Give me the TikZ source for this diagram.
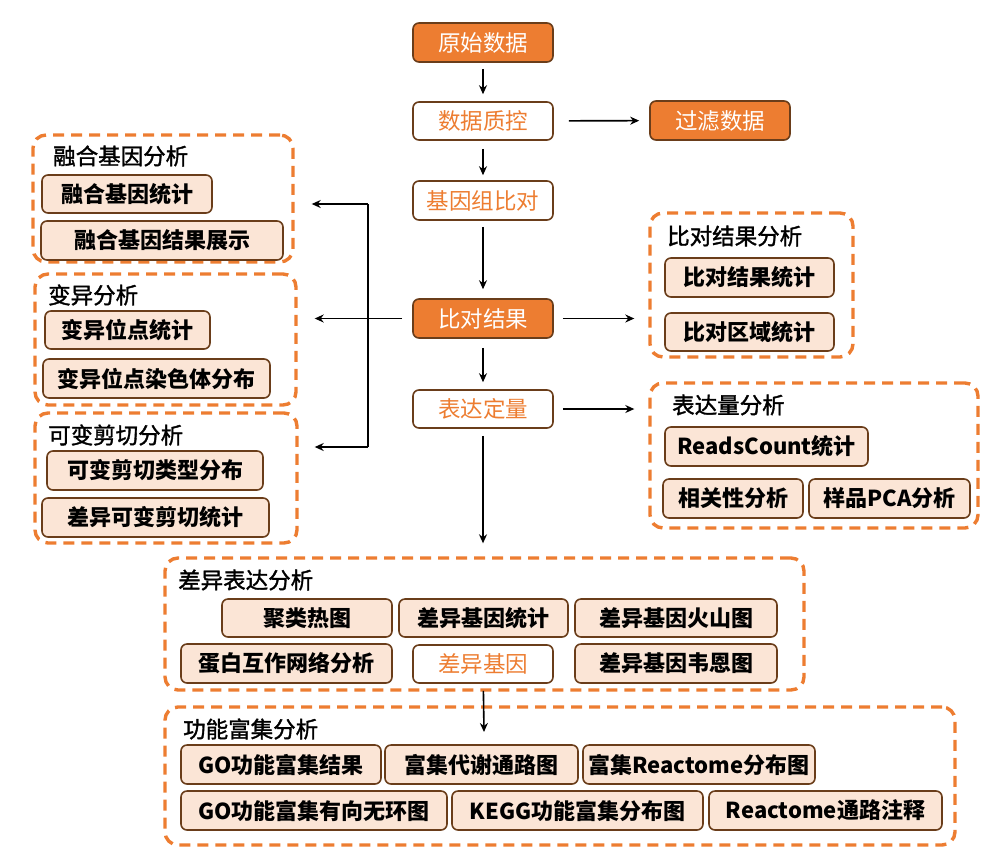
\documentclass[tikz,border=0pt]{standalone}
\usepackage{fontspec}
\setmainfont{Noto Sans CJK SC}
\newfontfamily\titlefont{Noto Sans CJK SC}[FakeBold=1.5]
\usetikzlibrary{arrows.meta}

\definecolor{flowor}{HTML}{ED7D31}
\definecolor{peach}{HTML}{FBE5D6}
\definecolor{rim}{HTML}{6A3D1A}

\tikzset{
  base/.style={rounded corners=6pt, line width=1.6pt, draw=rim, inner sep=0pt,
    font=\fontsize{22.5}{26}\selectfont},
  solidbox/.style={base, fill=flowor, text=white},
  hollowbox/.style={base, fill=white, text=flowor},
  itembox/.style={base, fill=peach, text=black, font=\fontsize{22}{26}\selectfont\bfseries},
  groupbox/.style={draw=flowor, line width=3.4pt, dash pattern=on 11pt off 7pt,
    rounded corners=13pt, inner sep=0pt},
  grouptitle/.style={anchor=west, inner sep=0pt, font=\fontsize{22.5}{26}\titlefont},
  link/.style={line width=1.6pt, black},
  arrow/.style={link, -{Stealth[length=9pt,width=8pt]}},
}

% \placebox{name}{x1}{y1}{x2}{y2}{style}{text}
\newcommand{\placebox}[7]{%
  \node[#6, minimum width={(#4-#2)*1pt}, minimum height={(#5-#3)*1pt}]
    (#1) at ({(#2+#4)/2},{(#3+#5)/2}) {#7};}

\begin{document}
\begin{tikzpicture}[x=1pt, y=-1pt]
\useasboundingbox (0,0) rectangle (992,852);

% dashed group frames
\placebox{fusion}{33}{135}{293}{262}{groupbox}{}
\placebox{variant}{35}{274}{296}{405}{groupbox}{}
\placebox{splice}{35}{413}{297}{543}{groupbox}{}
\placebox{alnres}{650}{213}{853}{357}{groupbox}{}
\placebox{expr}{650}{383}{978}{528}{groupbox}{}
\placebox{dea}{165}{558}{804}{690}{groupbox}{}
\placebox{func}{165}{707}{955}{845}{groupbox}{}

% group titles
\node[grouptitle] (tfusion) at (53,156) {融合基因分析};
\node[grouptitle] (tvariant) at (48,295) {变异分析};
\node[grouptitle] (tsplice) at (48,435) {可变剪切分析};
\node[grouptitle] (talnres) at (667,236) {比对结果分析};
\node[grouptitle] (texpr) at (672,405) {表达量分析};
\node[grouptitle] (tdea) at (178,580) {差异表达分析};
\node[grouptitle] (tfunc) at (183,729) {功能富集分析};

% main pipeline
\placebox{raw}{413}{23}{553}{62}{solidbox}{原始数据}
\placebox{qc}{413}{102}{553}{140}{hollowbox}{数据质控}
\placebox{filt}{650}{101}{790}{140}{solidbox}{过滤数据}
\placebox{align}{413}{181}{553}{220}{hollowbox}{基因组比对}
\placebox{result}{413}{299}{553}{338}{solidbox}{比对结果}
\placebox{quant}{413}{390}{553}{428}{hollowbox}{表达定量}
\placebox{deg}{413}{645}{553}{683}{hollowbox}{差异基因}

% fusion genes
\placebox{f1}{42}{175}{212}{213}{itembox}{融合基因统计}
\placebox{f2}{41}{221}{283}{260}{itembox}{融合基因结果展示}
% variants
\placebox{v1}{45}{311}{210}{349}{itembox}{变异位点统计}
\placebox{v2}{43}{359}{270}{398}{itembox}{变异位点染色体分布}
% alternative splicing
\placebox{s1}{47}{451}{263}{490}{itembox}{可变剪切类型分布}
\placebox{s2}{42}{498}{269}{537}{itembox}{差异可变剪切统计}
% alignment results
\placebox{a1}{665}{258}{834}{297}{itembox}{比对结果统计}
\placebox{a2}{665}{313}{834}{351}{itembox}{比对区域统计}
% expression
\placebox{e1}{665}{427}{868}{466}{itembox}{ReadsCount统计}
\placebox{e2}{663}{479}{803}{518}{itembox}{相关性分析}
\placebox{e3}{809}{479}{970}{518}{itembox}{样品PCA分析}
% differential expression
\placebox{d1}{222}{599}{392}{637}{itembox}{聚类热图}
\placebox{d2}{399}{599}{568}{637}{itembox}{差异基因统计}
\placebox{d3}{575}{599}{777}{637}{itembox}{差异基因火山图}
\placebox{d4}{181}{644}{392}{683}{itembox}{蛋白互作网络分析}
\placebox{d5}{575}{644}{777}{683}{itembox}{差异基因韦恩图}
% functional enrichment
\placebox{g1}{181}{745}{381}{784}{itembox}{GO功能富集结果}
\placebox{g2}{385}{745}{578}{784}{itembox}{富集代谢通路图}
\placebox{g3}{583}{745}{815}{784}{itembox}{富集Reactome分布图}
\placebox{g4}{181}{791}{447}{830}{itembox}{GO功能富集有向无环图}
\placebox{g5}{452}{791}{703}{830}{itembox}{KEGG功能富集分布图}
\placebox{g6}{709}{791}{942}{830}{itembox}{Reactome通路注释}

% vertical flow
\draw[arrow, shorten <=6pt, shorten >=7pt] (raw) -- (qc);
\draw[arrow, shorten <=8pt, shorten >=5pt] (qc) -- (align);
\draw[arrow, shorten <=6pt, shorten >=9pt] (align) -- (result);
\draw[arrow, shorten <=9pt, shorten >=7pt] (result) -- (quant);
\draw[arrow, shorten <=7pt, shorten >=13pt] (quant) -- (quant |- dea.north);
\coordinate (funcin) at (484,732);
\draw[arrow, shorten <=7pt] (deg) -- (funcin);

% side branches
\draw[arrow, shorten <=15pt, shorten >=10pt] (qc) -- (filt);
\draw[arrow, shorten <=9pt, shorten >=14pt] (result) -- (result -| alnres.west);
\draw[arrow, shorten <=9pt, shorten >=14pt] (quant) -- (quant -| expr.west);

% left branch to fusion / variant / splicing
\coordinate (jtop) at (368,204);
\coordinate (jbot) at (368,447);
\draw[link] (jtop) -- (jbot);
\draw[arrow, shorten <=10pt, shorten >=17pt] (result.west) -- (result.west -| variant.east);
\draw[arrow, shorten >=17pt] (jtop) -- (jtop -| fusion.east);
\draw[arrow, shorten >=16pt] (jbot) -- (jbot -| splice.east);
\end{tikzpicture}
\end{document}
